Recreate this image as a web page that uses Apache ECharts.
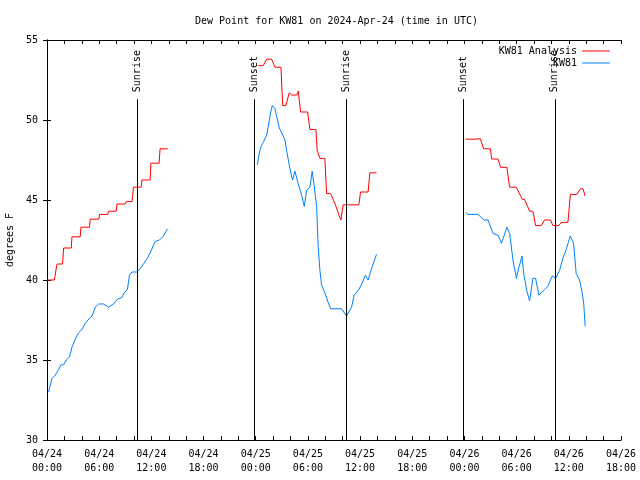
<!DOCTYPE html>
<html>
<head>
<meta charset="utf-8">
<script src="https://cdn.jsdelivr.net/npm/echarts@6/dist/echarts.min.js"></script>
<style>html,body{margin:0;padding:0;background:#fff;}#c{width:640px;height:480px;}</style>
</head>
<body>
<div id="c"></div>
<script>
// hours since 2024-04-24 00:00 UTC
var xTickLabels = ["04/24\n00:00","04/24\n06:00","04/24\n12:00","04/24\n18:00","04/25\n00:00","04/25\n06:00","04/25\n12:00","04/25\n18:00","04/26\n00:00","04/26\n06:00","04/26\n12:00","04/26\n18:00"];
var yTicks = [30, 35, 40, 45, 50, 55];

var analysisHours = [0,0.84,1.15,1.79,1.91,2.79,2.87,3.82,3.9,4.89,4.97,5.97,6.04,7.0,7.07,7.96,8.04,8.99,9.1,9.79,9.94,10.83,10.91,11.86,11.94,12.89,13.0,13.89,
  19,
  24.29,24.87,25.26,25.83,26.21,26.9,27.1,27.47,27.85,28.13,28.7,28.89,29.16,29.97,30.23,30.92,31.07,31.38,31.95,32.15,32.61,33.1,33.48,33.79,34.05,35.86,36.05,36.92,37.12,37.89,
  43,
  48.14,49.17,49.83,50.2,50.98,51.13,51.85,52.16,52.88,53.19,53.96,54.65,54.91,55.49,55.87,56.18,56.83,57.21,57.9,58.16,58.85,59.13,59.9,60.18,60.94,61.33,61.63,61.88];
var analysisDewpt = [40,40,41,41,42,42,42.7,42.7,43.3,43.3,43.8,43.8,44.1,44.1,44.3,44.3,44.75,44.75,44.9,44.9,45.8,45.8,46.25,46.25,47.3,47.3,48.2,48.2,
  null,
  53.4,53.4,53.8,53.8,53.3,53.3,50.9,50.9,51.7,51.56,51.56,51.8,50.5,50.5,49.4,49.4,48.1,47.6,47.6,45.4,45.4,44.8,44.2,43.75,44.7,44.7,45.5,45.5,46.7,46.7,
  null,
  48.8,48.8,48.83,48.2,48.2,47.56,47.56,47.04,47.04,45.8,45.8,45.04,45.04,44.3,44.3,43.4,43.4,43.75,43.75,43.4,43.4,43.6,43.6,45.35,45.35,45.7,45.7,45.25];

var obsHours = [0.18,0.57,0.95,1.33,1.61,1.91,2.22,2.59,2.87,3.25,3.63,4.02,4.4,4.89,5.17,5.55,5.92,6.5,7.07,7.65,8.1,8.61,8.87,9.25,9.48,9.76,10.33,10.71,11.09,11.48,11.86,12.43,12.93,13.39,13.85,
  19,
  24.18,24.37,24.57,24.87,25.26,25.44,25.72,25.9,26.21,26.41,26.71,27.1,27.36,27.55,27.85,28.13,28.24,28.51,28.89,29.28,29.58,29.85,30.23,30.49,30.69,31.0,31.18,31.38,31.57,31.95,32.33,32.61,33.87,34.44,35.02,35.32,35.86,36.23,36.62,36.92,37.31,37.89,
  43,
  48.14,48.41,49.56,50.25,50.71,51.02,51.29,51.86,52.25,52.89,53.2,53.58,53.97,54.27,54.62,54.81,55.18,55.49,55.87,56.18,56.56,57.22,57.59,58.1,58.48,58.94,59.31,59.7,60.16,60.54,60.85,61.23,61.54,61.72,61.88];
var obsDewpt = [33.0,33.85,34.06,34.4,34.7,34.7,35.0,35.2,35.8,36.3,36.7,36.9,37.3,37.6,37.75,38.3,38.5,38.5,38.3,38.5,38.8,38.9,39.2,39.4,40.3,40.5,40.5,40.7,41.0,41.3,41.7,42.4,42.5,42.75,43.2,
  null,
  47.2,47.8,48.3,48.6,49.06,49.6,50.5,50.9,50.7,50.2,49.5,49.06,48.75,48.1,47.2,46.45,46.25,46.8,46.0,45.3,44.6,45.6,45.8,46.8,46.0,44.6,42.1,40.6,39.7,39.2,38.6,38.2,38.2,37.75,38.3,39.06,39.4,39.8,40.3,40.0,40.7,41.6,
  null,
  44.23,44.1,44.1,43.75,43.75,43.3,42.9,42.8,42.3,43.3,42.9,41.25,40.1,40.8,41.5,40.4,39.3,38.7,40.1,40.1,39.06,39.4,39.6,40.25,40.1,40.6,41.35,41.9,42.75,42.3,40.4,40.0,39.2,38.5,37.1];

var sunHours = [10.4, 23.84, 34.4, 47.83, 58.4];
var sunLabels = ["Sunrise", "Sunset", "Sunrise", "Sunset", "Sunrise"];
var sunLineTop = 51.3;

function pairs(xs, ys) {
  return xs.map(function (x, i) { return [x, ys[i] === null ? '-' : ys[i]]; });
}

var MONO = "'DejaVu Sans Mono', 'Liberation Mono', monospace";
var txt = { fontFamily: MONO, fontSize: 10, color: '#000' };
// thin horizontal bar in the middle of a 28x10 box (corner moveTo points keep the box size)
var LINE_ICON = 'path://M0,0L0,0M0,4.5L28,4.5L28,5.5L0,5.5ZM28,10L28,10';

var chart = echarts.init(document.getElementById('c'), null, { renderer: 'canvas' });

var sunData = sunHours.map(function (h, i) { return { value: [h, sunLineTop], name: sunLabels[i] }; });
var sunLines = sunHours.map(function (h) { return [{ coord: [h, sunLineTop] }, { coord: [h, yTicks[0]] }]; });

chart.setOption({
  animation: false,
  backgroundColor: '#fff',
  title: {
    text: 'Dew Point for KW81 on 2024-Apr-24 (time in UTC)',
    left: 190, top: 11,
    textStyle: { fontFamily: MONO, fontSize: 10, fontWeight: 'normal', color: '#000' }
  },
  legend: {
    data: ['KW81 Analysis', 'KW81'],
    orient: 'vertical', align: 'right',
    right: 25, top: 41,
    itemWidth: 28, itemHeight: 10, itemGap: 2,
    icon: LINE_ICON,
    itemStyle: { borderWidth: 0 },
    textStyle: txt
  },
  grid: { left: 47, right: 19, top: 40, bottom: 40, show: false, containLabel: false, outerBoundsMode: 'none' },
  xAxis: [{
    type: 'value', min: 0, max: 66, interval: 6,
    axisLine: { show: true, lineStyle: { color: '#000', width: 1 } },
    axisTick: { show: true, inside: true, length: 4, lineStyle: { color: '#000' } },
    minorTick: { show: true, splitNumber: 3, length: 4, lineStyle: { color: '#000' } },
    splitLine: { show: false },
    axisLabel: {
      fontFamily: MONO, fontSize: 10, color: '#000', lineHeight: 14, margin: 7,
      formatter: function (v) { return xTickLabels[Math.round(v / 6)]; }
    }
  }, {
    type: 'value', position: 'top', min: 0, max: 66, interval: 6,
    axisLine: { show: true, lineStyle: { color: '#000', width: 1 } },
    axisTick: { show: true, inside: true, length: 4, lineStyle: { color: '#000' } },
    minorTick: { show: true, splitNumber: 3, length: 4, lineStyle: { color: '#000' } },
    splitLine: { show: false },
    axisLabel: { show: false }
  }],
  yAxis: [{
    type: 'value', min: yTicks[0], max: yTicks[yTicks.length - 1], interval: 5,
    name: 'degrees F', nameLocation: 'middle', nameGap: 31, nameRotate: 90,
    nameTextStyle: txt,
    axisLine: { show: true, lineStyle: { color: '#000', width: 1 } },
    axisTick: { show: true, inside: true, length: 4, lineStyle: { color: '#000' } },
    splitLine: { show: false },
    axisLabel: { fontFamily: MONO, fontSize: 10, color: '#000', margin: 9 }
  }, {
    type: 'value', position: 'right', min: yTicks[0], max: yTicks[yTicks.length - 1], interval: 5,
    axisLine: { show: true, lineStyle: { color: '#000', width: 1 } },
    axisTick: { show: true, inside: true, length: 4, lineStyle: { color: '#000' } },
    splitLine: { show: false },
    axisLabel: { show: false }
  }],
  series: [{
    name: 'KW81 Analysis', type: 'line', data: pairs(analysisHours, analysisDewpt),
    symbol: 'none', connectNulls: false, color: '#ff0000',
    lineStyle: { color: '#ff0000', width: 1 }, z: 3
  }, {
    name: 'KW81', type: 'line', data: pairs(obsHours, obsDewpt),
    symbol: 'none', connectNulls: false, color: '#0080ff',
    lineStyle: { color: '#0080ff', width: 1 }, z: 3
  }, {
    name: 'sun', type: 'scatter', data: sunData, symbolSize: 0, silent: true, z: 4,
    label: {
      show: true, position: 'top', distance: 7, rotate: 90,
      align: 'left', verticalAlign: 'middle',
      formatter: function (p) { return p.name; },
      fontFamily: MONO, fontSize: 10, color: '#000', opacity: 1
    },
    emphasis: { disabled: true },
    markLine: {
      silent: true, symbol: ['none', 'none'], animation: false,
      label: { show: false },
      lineStyle: { color: '#000', width: 1, type: 'solid' },
      data: sunLines
    }
  }]
});
</script>
</body>
</html>
